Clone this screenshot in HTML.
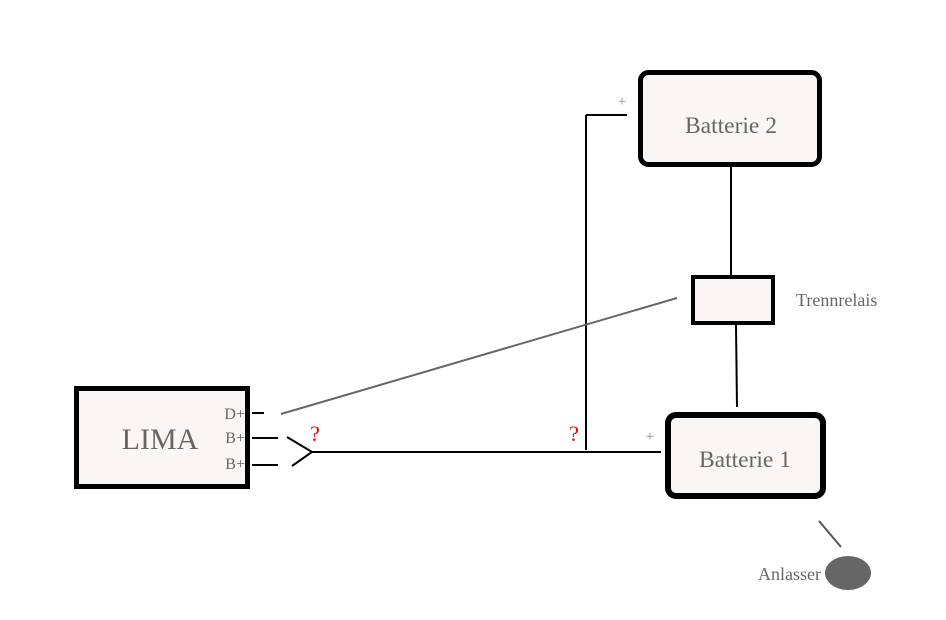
<!DOCTYPE html>
<html><head><meta charset="utf-8"><style>
html,body{margin:0;padding:0;background:#fff;}
svg{display:block;}
</style></head><body>
<svg width="946" height="620" viewBox="0 0 946 620" xmlns="http://www.w3.org/2000/svg">
<g font-family="'Liberation Serif', 'DejaVu Serif', serif" fill="#666">
<rect x="76.5" y="388.5" width="171" height="98" fill="#faf6f5" stroke="#000" stroke-width="5"/>
<text x="160" y="449" font-size="30" text-anchor="middle" fill="#666">LIMA</text>
<text x="245" y="419" font-size="16" text-anchor="end" fill="#666">D+</text>
<text x="245" y="443" font-size="16" text-anchor="end" fill="#666">B+</text>
<text x="245" y="469" font-size="16" text-anchor="end" fill="#666">B+</text>
<g stroke="#000" stroke-width="2" fill="none">
<line x1="252" y1="413" x2="264" y2="413"/>
<line x1="252" y1="438" x2="278" y2="438"/>
<line x1="252" y1="465" x2="278" y2="465"/>
<polyline points="287,437 312,452 292,466"/>
<line x1="312" y1="452" x2="661" y2="452"/>
<line x1="586" y1="450" x2="586" y2="115"/>
<line x1="586" y1="115" x2="627" y2="115"/>
<line x1="731" y1="167" x2="731" y2="275"/>
<line x1="736" y1="325" x2="737" y2="407"/>
</g>
<line x1="281" y1="414" x2="677" y2="298" stroke="#666" stroke-width="2"/>
<line x1="819" y1="521" x2="841" y2="547" stroke="#555" stroke-width="2"/>
<text x="315" y="441" font-size="22" fill="#e00" text-anchor="middle">?</text>
<text x="574" y="441" font-size="22" fill="#e00" text-anchor="middle">?</text>
<text x="622" y="106" font-size="15" text-anchor="middle" fill="#888">+</text>
<text x="650" y="441" font-size="15" text-anchor="middle" fill="#888">+</text>
<rect x="640.5" y="72.5" width="179" height="92" rx="8" fill="#faf6f5" stroke="#000" stroke-width="5"/>
<text x="731" y="133" font-size="23.5" text-anchor="middle" fill="#666">Batterie 2</text>
<rect x="693" y="277" width="80" height="46" fill="#faf6f5" stroke="#000" stroke-width="4"/>
<text x="796" y="306" font-size="18" fill="#666">Trennrelais</text>
<rect x="668" y="415" width="155" height="81" rx="8" fill="#faf6f5" stroke="#000" stroke-width="6"/>
<text x="745" y="467" font-size="23.5" text-anchor="middle" fill="#666">Batterie 1</text>
<ellipse cx="848" cy="573" rx="23" ry="17" fill="#666"/>
<text x="821" y="580" font-size="18" text-anchor="end" fill="#666">Anlasser</text>
</g>
</svg>
</body></html>
